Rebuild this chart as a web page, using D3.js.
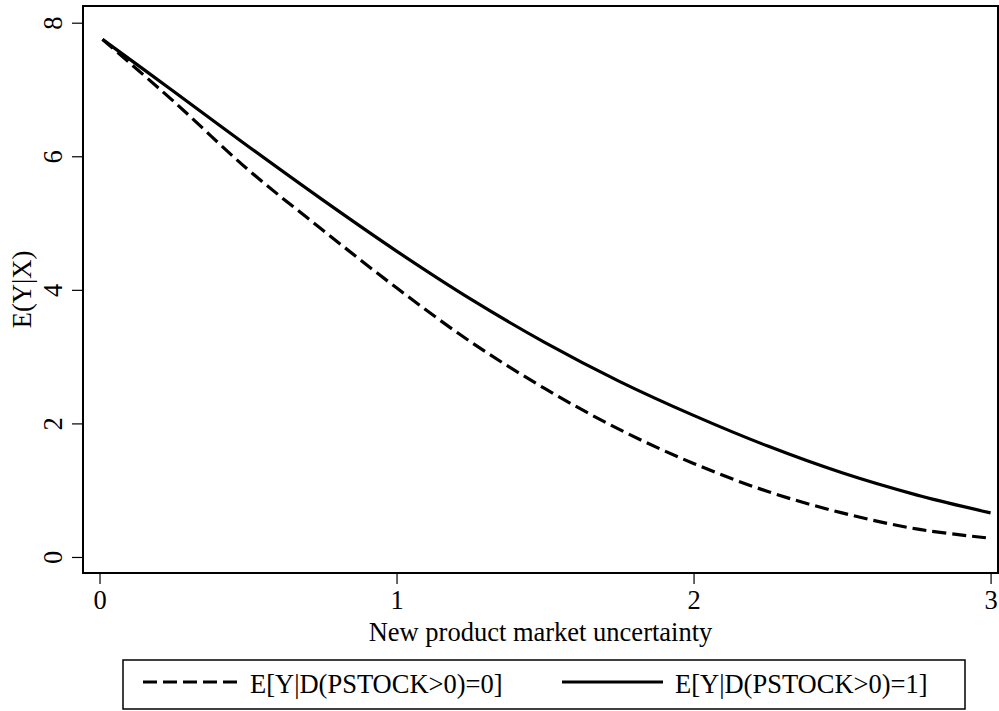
<!DOCTYPE html>
<html>
<head>
<meta charset="utf-8">
<script src="https://cdn.jsdelivr.net/npm/d3@7"></script>
<style>
  body { margin: 0; background: #fff; }
  svg { display: block; font-family: "Liberation Serif", "Times New Roman", serif; }
</style>
</head>
<body>
<div id="chart"></div>
<script>
// values
const uncertainty = [0.01, 0.25, 0.5, 0.75, 1.0, 1.25, 1.5, 1.75, 2.0, 2.25, 2.5, 2.75, 3.0];
const eyNoStock = [7.75, 6.82, 5.80, 4.90, 4.03, 3.22, 2.52, 1.91, 1.40, 0.98, 0.66, 0.42, 0.28];
const eyStock = [7.75, 6.97, 6.15, 5.35, 4.58, 3.86, 3.21, 2.63, 2.12, 1.66, 1.26, 0.93, 0.66];
const xTicks = [0, 1, 2, 3];
const yTicks = [0, 2, 4, 6, 8];
const seriesNames = ['E[Y|D(PSTOCK>0)=0]', 'E[Y|D(PSTOCK>0)=1]'];

const width = 999;
const height = 711;
const plot = { left: 83, right: 998, top: 6, bottom: 573 };
const fontSize = 26.5;

const svg = d3.select('#chart')
  .append('svg')
  .attr('width', width)
  .attr('height', height);

const x = d3.scaleLinear()
  .domain([-0.0556, 3.025])
  .range([plot.left, plot.right]);

const y = d3.scaleLinear()
  .domain([-0.24, 8.25])
  .range([plot.bottom, plot.top]);

// frame
svg.append('rect')
  .attr('x', plot.left)
  .attr('y', plot.top)
  .attr('width', plot.right - plot.left)
  .attr('height', plot.bottom - plot.top)
  .attr('fill', 'none')
  .attr('stroke', '#000')
  .attr('stroke-width', 2);

// x axis
const xAxis = d3.axisBottom(x)
  .tickValues(xTicks)
  .tickSize(11)
  .tickPadding(6)
  .tickFormat(d3.format('d'));

const gx = svg.append('g')
  .attr('transform', `translate(0, ${plot.bottom})`)
  .call(xAxis);
gx.select('.domain').remove();
gx.selectAll('line').attr('stroke-width', 1.2);
gx.selectAll('text')
  .attr('font-size', fontSize)
  .attr('font-family', '"Liberation Serif", serif')
  .attr('fill', '#000');

// y axis, labels rotated like the original
const yAxis = d3.axisLeft(y)
  .tickValues(yTicks)
  .tickSize(11)
  .tickFormat(d3.format('d'));

const gy = svg.append('g')
  .attr('transform', `translate(${plot.left}, 0)`)
  .call(yAxis);
gy.select('.domain').remove();
gy.selectAll('line').attr('stroke-width', 1.2);
gy.selectAll('text')
  .attr('x', null)
  .attr('dy', null)
  .attr('font-size', fontSize)
  .attr('font-family', '"Liberation Serif", serif')
  .attr('fill', '#000')
  .attr('text-anchor', 'middle')
  .attr('transform', 'translate(-21, 0) rotate(-90)')
  .attr('y', 0);

// axis titles
svg.append('text')
  .attr('x', (plot.left + plot.right) / 2)
  .attr('y', 641)
  .attr('text-anchor', 'middle')
  .attr('font-size', fontSize)
  .text('New product market uncertainty');

svg.append('text')
  .attr('transform', `translate(31, ${(plot.top + plot.bottom) / 2}) rotate(-90)`)
  .attr('text-anchor', 'middle')
  .attr('font-size', fontSize)
  .text('E(Y|X)');

// lines
const line = d3.line()
  .curve(d3.curveCatmullRom)
  .x(d => x(d[0]))
  .y(d => y(d[1]));

const series = [
  { name: seriesNames[0], values: d3.zip(uncertainty, eyNoStock), dash: '14,6' },
  { name: seriesNames[1], values: d3.zip(uncertainty, eyStock), dash: null },
];

svg.selectAll('.series')
  .data(series)
  .enter()
  .append('path')
  .attr('class', 'series')
  .attr('d', d => line(d.values))
  .attr('fill', 'none')
  .attr('stroke', '#000')
  .attr('stroke-width', 3.2)
  .attr('stroke-dasharray', d => d.dash);

// legend
const legend = svg.append('g');
legend.append('rect')
  .attr('x', 123)
  .attr('y', 660)
  .attr('width', 842)
  .attr('height', 49)
  .attr('fill', '#fff')
  .attr('stroke', '#000')
  .attr('stroke-width', 1.5);

const legendItems = [
  { x1: 143, x2: 237, tx: 250 },
  { x1: 562, x2: 663, tx: 675 },
];

legendItems.forEach((item, i) => {
  legend.append('line')
    .attr('x1', item.x1)
    .attr('x2', item.x2)
    .attr('y1', 682)
    .attr('y2', 682)
    .attr('stroke', '#000')
    .attr('stroke-width', 3.2)
    .attr('stroke-dasharray', series[i].dash);
  legend.append('text')
    .attr('x', item.tx)
    .attr('y', 693)
    .attr('font-size', fontSize)
    .text(series[i].name);
});
</script>
</body>
</html>
